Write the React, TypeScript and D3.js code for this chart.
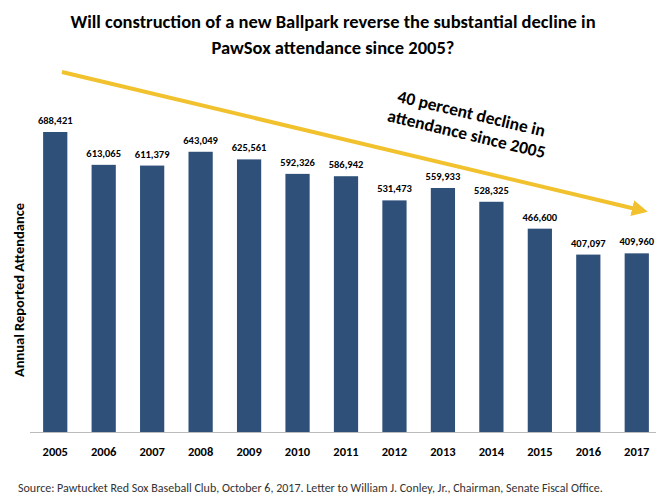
import React from 'react';
import * as d3 from 'd3';

const YEARS = ['2005','2006','2007','2008','2009','2010','2011','2012','2013','2014','2015','2016','2017'];
const ATTENDANCE = [688421, 613065, 611379, 643049, 625561, 592326, 586942, 531473, 559933, 528325, 466600, 407097, 409960];

export default function App() {
  const W = 667, H = 502;
  const x = d3.scaleBand().domain(YEARS).range([31, 661]).paddingInner(0.5).paddingOuter(0.25);
  const y = d3.scaleLinear().domain([0, 688421]).range([432, 132]);
  const fmt = d3.format(',');
  const font = 'Calibri, Carlito, "Open Sans", Arial, sans-serif';
  const ang = Math.atan2(212 - 72, 650 - 62) * 180 / Math.PI;

  return (
    <svg width={W} height={H} style={{ position: 'absolute', left: 0, top: 0, background: '#fff' }} fontFamily={font}>
      <text x={333} y={28} textAnchor="middle" fontSize={18.5} fontWeight="bold" fill="#000">
        Will construction of a new Ballpark reverse the substantial decline in
      </text>
      <text x={333} y={54} textAnchor="middle" fontSize={18.5} fontWeight="bold" fill="#000">
        PawSox attendance since 2005?
      </text>
      {YEARS.map((yr, i) => (
        <g key={yr}>
          <rect x={x(yr)} y={y(ATTENDANCE[i])} width={x.bandwidth()} height={432 - y(ATTENDANCE[i])} fill="#2F5078" />
          <text x={x(yr)! + x.bandwidth() / 2} y={y(ATTENDANCE[i]) - 8} textAnchor="middle" fontSize={10.5} fontWeight="bold">{fmt(ATTENDANCE[i])}</text>
          <text x={x(yr)! + x.bandwidth() / 2} y={456} textAnchor="middle" fontSize={12.5} fontWeight="bold">{yr}</text>
        </g>
      ))}
      <line x1={30} x2={656} y1={432.5} y2={432.5} stroke="#bbb" />
      <text transform="translate(24,290) rotate(-90)" textAnchor="middle" fontSize={14.5} fontWeight="bold">Annual Reported Attendance</text>
      <defs>
        <marker id="ah" markerWidth="4" markerHeight="4" refX="2" refY="2" orient="auto">
          <path d="M0,0 L4,2 L0,4 Z" fill="#F2C12E" />
        </marker>
      </defs>
      <line x1={62} y1={72} x2={640} y2={210} stroke="#F2C12E" strokeWidth={4} markerEnd="url(#ah)" />
      <g transform={`translate(468,128) rotate(${ang})`}>
        <text x={0} y={-9} textAnchor="middle" fontSize={17.5} fontWeight="bold">40 percent decline in</text>
        <text x={0} y={12} textAnchor="middle" fontSize={17.5} fontWeight="bold">attendance since 2005</text>
      </g>
      <text x={18} y={492} fontSize={12} fill="#333">Source: Pawtucket Red Sox Baseball Club, October 6, 2017. Letter to William J. Conley, Jr., Chairman, Senate Fiscal Office.</text>
    </svg>
  );
}
